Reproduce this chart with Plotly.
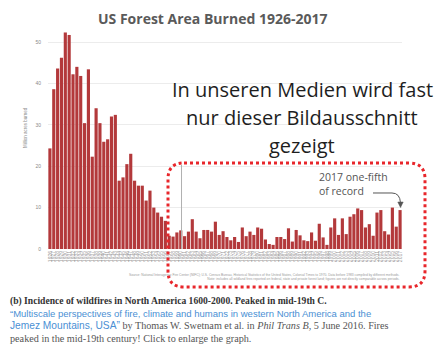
import plotly.graph_objects as go

# Area burned in US forests, million acres per year
years = list(range(1926, 2018))
acres_burned = [
    24.3, 38.6, 43.6, 46.2, 52.3, 51.7, 42.2, 44.0, 41.8, 30.4,  # 1926-1935
    43.4, 22.3, 34.0, 30.4, 25.9, 26.5, 32.0, 32.4, 16.5, 17.3,  # 1936-1945
    20.5, 23.0, 16.5, 15.3, 15.3, 11.7, 14.1, 10.0, 8.8, 7.8,    # 1946-1955
    6.8, 3.2, 3.0, 4.0, 4.5, 3.1, 4.2, 7.2, 4.2, 2.6,            # 1956-1965
    4.6, 4.6, 4.2, 6.6, 3.4, 4.3, 2.9, 2.1, 2.9, 1.7,            # 1966-1975
    5.2, 3.1, 4.2, 3.4, 5.2, 4.9, 2.3, 1.2, 1.0, 2.9,            # 1976-1985
    2.9, 2.4, 5.0, 1.8, 4.6, 3.3, 2.1, 1.9, 4.0, 2.0,            # 1986-1995
    6.1, 2.8, 1.0, 5.2, 7.4, 3.4, 7.4, 3.6, 7.8, 8.4,            # 1996-2005
    9.8, 9.4, 5.2, 6.0, 3.2, 8.8, 9.4, 4.3, 3.5, 10.0,           # 2006-2015
    5.4, 9.4,                                                     # 2016-2017
]
y_ticks = [0, 10, 20, 30, 40, 50]

W, H = 440, 345
L, R, T, B = 48, 402, 30, 249   # plot area edges in pixels


def px(x):
    return (x - L) / (R - L)


def py(y):
    return (B - y) / (B - T)


fig = go.Figure()
fig.add_trace(go.Bar(
    x=years, y=acres_burned,
    marker=dict(color="#b3393b", line=dict(width=0)),
    hoverinfo="x+y",
))

ymax = (B - T) / ((B - 42) / 50)

fig.update_layout(
    width=W, height=H, autosize=False,
    margin=dict(l=L, r=W - R, t=T, b=H - B, pad=0),
    paper_bgcolor="white", plot_bgcolor="white",
    bargap=0.18, showlegend=False,
    xaxis=dict(
        range=[1925.5, 2017.5], tickmode="linear", tick0=1926, dtick=1,
        tickangle=-90, tickfont=dict(size=5, color="#9a9a9a", family="Liberation Sans"),
        showgrid=False, zeroline=False, showline=False, ticks="",
    ),
    yaxis=dict(
        range=[0, ymax], tickvals=y_ticks,
        tickfont=dict(size=5, color="#8a8a8a", family="Liberation Sans"),
        gridcolor="#ececec", gridwidth=1, zeroline=False, showline=False,
        ticks="", ticklabelstandoff=6,
    ),
)


def note(text, x, y, size, color, family, xanchor="center", **kw):
    return dict(text=text, x=px(x), y=py(y), xref="paper", yref="paper",
                xanchor=xanchor, yanchor="middle", showarrow=False,
                font=dict(size=size, color=color, family=family), **kw)


ann = []
# chart title
ann.append(note("<b>US Forest Area Burned 1926-2017</b>", 212, 19, 14, "#5a5a5a", "Open Sans"))
# y-axis title
ann.append(note("Million acres burned", 25, 128, 4.5, "#8a8a8a", "Liberation Sans", textangle=-90))
# overlay remark
for txt, yy in [("In unseren Medien wird fast", 89),
                ("nur dieser Bildausschnitt", 117),
                ("gezeigt", 145)]:
    ann.append(note(txt, 302, yy, 20, "#1e1e1e", "Open Sans"))
# record note
ann.append(note("2017 one-fifth<br>of record", 317, 184, 10.5, "#555555", "Open Sans",
                xanchor="left", align="left"))
# small source note under the axis
ann.append(note(
    ("Source: National Interagency Fire Center (NIFC); U.S. Census Bureau, Historical Statistics of the United States, "
     "Colonial Times to 1970. Data before 1983 compiled by different methods.<br>"
     "Note: includes all wildland fires reported on federal, state and private forest land; figures are not directly comparable across periods."),
    401, 277, 3.3, "#9a9a9a", "Liberation Sans", xanchor="right", align="right"))
# caption below the figure
serif = "Liberation Serif"
blue = "#4a8fd4"
ann.append(note("<b>(b) Incidence of wildfires in North America 1600-2000. Peaked in mid-19th C.</b>",
                8, 300.5, 9.6, "#333333", serif, xanchor="left"))
ann.append(note("\u201cMultiscale perspectives of fire, climate and humans in western North America and the",
                8, 313, 9.5, blue, "Liberation Sans", xanchor="left"))
ann.append(note((f"<span style='font-family:Liberation Sans;color:{blue}'>Jemez Mountains, USA\u201d</span>"
                 " by Thomas W. Swetnam et al. in <i>Phil Trans B</i>, 5 June 2016. Fires"),
                8, 325.5, 10.2, "#555555", serif, xanchor="left"))
ann.append(note("peaked in the mid-19th century! Click to enlarge the graph.",
                8, 338, 10.2, "#555555", serif, xanchor="left"))
fig.update_layout(annotations=ann)


def P(x, y):
    return f"{px(x):.5f},{py(y):.5f}"


shapes = []
# marker line near 1960
shapes.append(dict(type="line", xref="x", yref="paper", x0=1960.2, x1=1960.2,
                   y0=py(249), y1=py(165), line=dict(color="#b0b0b0", width=1)))
# dotted rounded frame around the recent decades
x0, x1, y0, y1, r = 168, 425, 163, 287, 16
frame = (f"M {P(x0 + r, y0)} L {P(x1 - r, y0)} Q {P(x1, y0)} {P(x1, y0 + r)} "
         f"L {P(x1, y1 - r)} Q {P(x1, y1)} {P(x1 - r, y1)} "
         f"L {P(x0 + r, y1)} Q {P(x0, y1)} {P(x0, y1 - r)} "
         f"L {P(x0, y0 + r)} Q {P(x0, y0)} {P(x0 + r, y0)} Z")
shapes.append(dict(type="path", xref="paper", yref="paper", path=frame,
                   line=dict(color="#e8262b", width=3, dash="dot")))
# curved pointer to the 2017 bar
curve = f"M {P(373, 193)} L {P(392, 193)} Q {P(400, 193)} {P(400.5, 203)}"
shapes.append(dict(type="path", xref="paper", yref="paper", path=curve,
                   line=dict(color="#555555", width=1)))
head = f"M {P(397.8, 202)} L {P(403.2, 202)} L {P(400.5, 207.5)} Z"
shapes.append(dict(type="path", xref="paper", yref="paper", path=head,
                   fillcolor="#555555", line=dict(color="#555555", width=0.5)))
fig.update_layout(shapes=shapes)

fig.write_html("out.html")
